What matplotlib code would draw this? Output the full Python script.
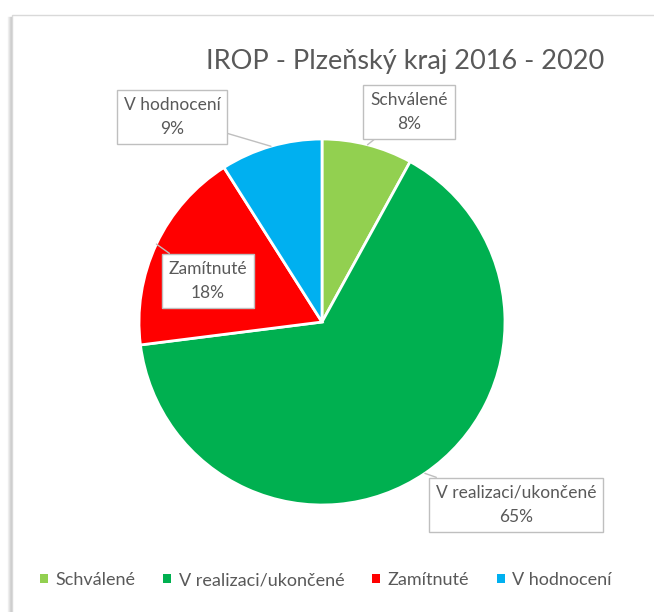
import matplotlib
matplotlib.use("Agg")
import matplotlib.pyplot as plt
import numpy as np
from matplotlib.patches import Rectangle

categories = ["Schválené", "V realizaci/ukončené", "Zamítnuté", "V hodnocení"]
values = [8, 65, 18, 9]
colors = ["#92D050", "#00B050", "#FF0000", "#00B0F0"]
title = "IROP - Plzeňský kraj 2016 - 2020"

plt.rcParams['font.family'] = ['Lato', 'DejaVu Sans']
TXT = "#595959"

W, H = 654, 612
fig = plt.figure(figsize=(W / 100, H / 100), dpi=100)
fig.patch.set_facecolor("white")

# chart border with soft shadow on the left
for i, a in enumerate([0.05, 0.08, 0.12, 0.18]):
    fig.add_artist(plt.Line2D([(8 + i) / W, (8 + i) / W], [0, 1 - 17 / H],
                              transform=fig.transFigure, color="black", alpha=a, lw=1,
                              zorder=-10))
fig.add_artist(Rectangle((12 / W, -0.1), 1.1, 1.1 - 15 / H, transform=fig.transFigure,
                         facecolor="white", edgecolor="#D9D9D9", lw=1, zorder=-9))

cx, cy, r = 322, 322, 183
ax = fig.add_axes([(cx - r) / W, (H - cy - r) / H, 2 * r / W, 2 * r / H])
ax.set_zorder(1)
wedges, _ = ax.pie(values, colors=colors, startangle=90, counterclock=False,
                   radius=1, wedgeprops=dict(edgecolor="white", linewidth=2))
ax.set_xlim(-1, 1)
ax.set_ylim(-1, 1)
ax.set_aspect("equal")
ax.axis("off")

# label boxes (positions in axes data units)
label_pos = [(0.475, 1.148), (1.06, -1.0), (-0.623, 0.224), (-0.82, 1.12)]
total = sum(values)
for w, lab, v, pos in zip(wedges, categories, values, label_pos):
    mid = np.deg2rad((w.theta1 + w.theta2) / 2)
    ax.annotate(f"{lab}\n{round(100 * v / total)}%", xy=(np.cos(mid), np.sin(mid)),
                xytext=pos, ha="center", va="center", fontsize=12.5, color=TXT,
                linespacing=1.65, annotation_clip=False,
                bbox=dict(boxstyle="square,pad=0.4", fc="white", ec="#BFBFBF", lw=1),
                arrowprops=dict(arrowstyle="-", color="#BFBFBF", lw=1, shrinkA=0, shrinkB=0))

fig.text(405 / W, 1 - 62 / H, title, ha="center", va="center", fontsize=19.5, color=TXT)

leg = fig.legend(wedges, categories, loc="center", bbox_to_anchor=(326 / W, 1 - 580 / H),
                 ncol=4, frameon=False, fontsize=13, handlelength=0.45, handleheight=0.45,
                 handletextpad=0.4, columnspacing=1.55, labelcolor=TXT)
for h in leg.legend_handles:
    h.set_edgecolor("none")

fig.savefig("out.png", dpi=100)
